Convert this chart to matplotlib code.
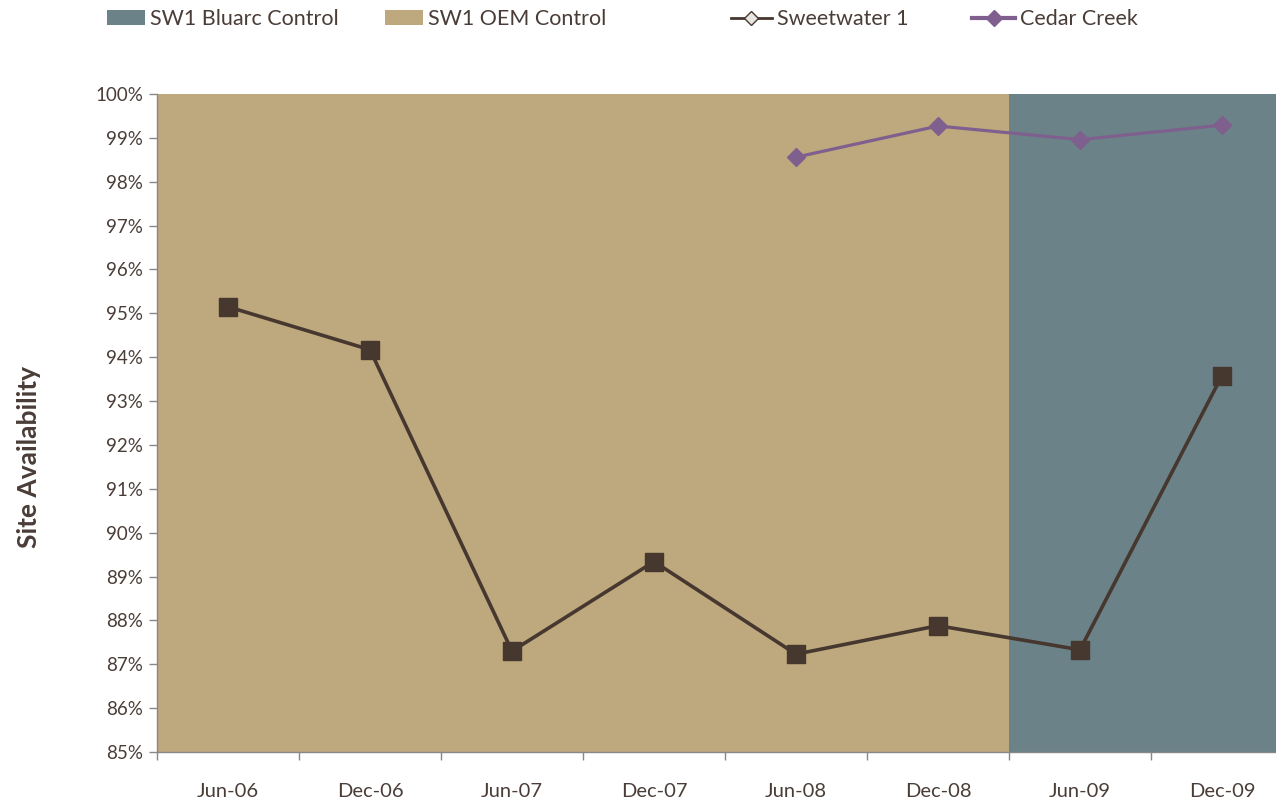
import numpy as np
import matplotlib
matplotlib.use('Agg')
from matplotlib import pyplot as plt
from matplotlib.patches import Patch
from matplotlib.lines import Line2D
from matplotlib.ticker import FuncFormatter, MultipleLocator

# Data
periods = ['Jun-06', 'Dec-06', 'Jun-07', 'Dec-07', 'Jun-08', 'Dec-08', 'Jun-09', 'Dec-09']
control = ['OEM', 'OEM', 'OEM', 'OEM', 'OEM', 'OEM', 'Bluarc', 'Bluarc']
sweetwater = [95.15, 94.17, 87.30, 89.34, 87.23, 87.88, 87.33, 93.58]
cedar_creek = [np.nan, np.nan, np.nan, np.nan, 98.56, 99.27, 98.96, 99.29]

TXT = '#4a3d38'
OEM_C = '#bea87e'
BLU_C = '#6b8288'
SW_C = '#46372f'
CC_C = '#7f5f8e'

plt.rcParams['font.family'] = ['Lato', 'DejaVu Sans']
plt.rcParams['text.color'] = TXT

fig = plt.figure(figsize=(12.76, 7.99), dpi=100)
ax = fig.add_axes([157 / 1276, 1 - 752 / 799, 1136 / 1276, 658 / 799])

x = np.arange(len(periods))

# Shaded control periods
for i, c in enumerate(control):
    ax.axvspan(i - 0.5, i + 0.5, color=OEM_C if c == 'OEM' else BLU_C, lw=0, zorder=0)

ax.plot(x, sweetwater, color=SW_C, lw=2.6, marker='s', markersize=12.5,
        markerfacecolor=SW_C, markeredgecolor=SW_C, zorder=3)
ax.plot(x, cedar_creek, color=CC_C, lw=2.3, marker='D', markersize=9,
        markerfacecolor=CC_C, markeredgecolor=CC_C, zorder=3)

ax.set_xlim(-0.5, len(periods) - 0.5)
ax.set_ylim(85, 100)
ax.yaxis.set_major_locator(MultipleLocator(1))
ax.yaxis.set_major_formatter(FuncFormatter(lambda v, p: '{:.0f}%'.format(v)))

ax.set_xticks(x)
ax.set_xticklabels(periods)
ax.set_xticks(np.arange(len(periods) + 1) - 0.5, minor=True)
ax.tick_params(axis='x', which='major', length=0, pad=22, labelsize=14.5, labelcolor=TXT)
ax.tick_params(axis='x', which='minor', length=6, color='#888888', width=1)
ax.tick_params(axis='y', length=6, color='#888888', width=1, labelsize=13.5,
               labelcolor=TXT, pad=4)

for s in ['top', 'right']:
    ax.spines[s].set_visible(False)
for s in ['left', 'bottom']:
    ax.spines[s].set_color('#888888')
    ax.spines[s].set_linewidth(1)

fig.text(29 / 1276, 1 - 457 / 799, 'Site Availability', rotation=90, ha='center',
         va='center', fontsize=19, fontweight='bold', color=TXT)

# Legend, one entry at a time to keep Excel-like spacing
entries = [
    (Patch(facecolor=BLU_C, edgecolor='none'), 'SW1 Bluarc Control', 107, 1.75),
    (Patch(facecolor=OEM_C, edgecolor='none'), 'SW1 OEM Control', 385, 1.75),
    (Line2D([0], [0], color=SW_C, lw=2, marker='D', markersize=7,
            markerfacecolor='#e8e6e0', markeredgecolor=SW_C), 'Sweetwater 1', 731, 1.9),
    (Line2D([0], [0], color=CC_C, lw=3, marker='D', markersize=8,
            markerfacecolor=CC_C, markeredgecolor=CC_C), 'Cedar Creek', 972, 2.0),
]
for h, lab, px, hl in entries:
    fig.legend([h], [lab], loc='center left', bbox_to_anchor=(px / 1276, 1 - 19 / 799),
               frameon=False, fontsize=15.5, handlelength=hl, handleheight=0.65,
               handletextpad=0.25, borderpad=0, borderaxespad=0, labelcolor=TXT)

fig.savefig('out.png', dpi=100)
